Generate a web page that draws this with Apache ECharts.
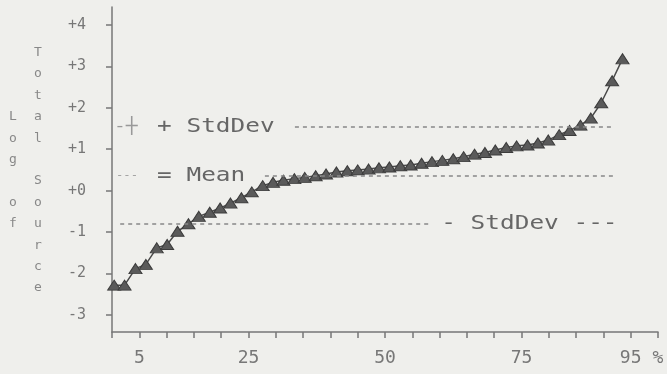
<!DOCTYPE html>
<html>
<head>
<meta charset="utf-8">
<script src="https://cdn.jsdelivr.net/npm/echarts@6/dist/echarts.min.js"></script>
<style>
  html, body { margin: 0; padding: 0; background: #efefec; }
  #main { width: 667px; height: 374px; }
</style>
</head>
<body>
<div id="main"></div>
<script>
// percentile rank of each source (x) and its log total source (y)
var pctRank = [0.4, 2.3, 4.3, 6.2, 8.2, 10.1, 12.0, 14.0, 15.9, 17.9, 19.8, 21.7, 23.7, 25.6,
  27.6, 29.5, 31.4, 33.4, 35.3, 37.3, 39.2, 41.1, 43.1, 45.0, 47.0, 48.9, 50.8, 52.8, 54.7,
  56.7, 58.6, 60.5, 62.5, 64.4, 66.4, 68.3, 70.2, 72.2, 74.1, 76.1, 78.0, 79.9, 81.9, 83.8,
  85.8, 87.7, 89.6, 91.6, 93.5];
var logSource = [-2.28, -2.28, -1.88, -1.78, -1.38, -1.30, -0.98, -0.80, -0.62, -0.52, -0.42,
  -0.30, -0.17, -0.03, 0.12, 0.20, 0.25, 0.29, 0.32, 0.36, 0.40, 0.45, 0.48, 0.50, 0.52, 0.55,
  0.57, 0.60, 0.62, 0.66, 0.70, 0.73, 0.77, 0.82, 0.88, 0.92, 0.98, 1.04, 1.08, 1.10, 1.15,
  1.22, 1.35, 1.45, 1.58, 1.75, 2.12, 2.65, 3.18];

// reference levels and the x span of their dotted lines
var meanVal = 0.36;
var sdHigh = 1.54;
var sdLow = -0.80;
var sdHighSpan = [33.5, 91.8];
var meanSpan = [28.0, 91.8];
var sdLowSpan = [1.5, 58.2];

var yTicks = [-3, -2, -1, 0, 1, 2, 3, 4];
var xTicks = [0, 5, 10, 15, 20, 25, 30, 35, 40, 45, 50, 55, 60, 65, 70, 75, 80, 85, 90, 95, 100];
var xLabels = [5, 25, 50, 75, 95, 100];

var ink = '#4a4a4a';
var grey = '#777';
var mono = '"DejaVu Sans Mono", "Liberation Mono", monospace';

var dom = document.getElementById('main');
var myChart = echarts.init(dom, null, { renderer: 'canvas' });

var points = pctRank.map(function (x, i) { return [x, logSource[i]]; });

function hline(y, span) {
  return [{ coord: [span[0], y] }, { coord: [span[1], y] }];
}

var yMin = -3.41, yMax = 4.43;

var option = {
  backgroundColor: '#efefec',
  animation: false,
  grid: { left: 112, right: 9, top: 7, bottom: 42 },
  xAxis: {
    type: 'value',
    min: 0,
    max: 100,
    splitLine: { show: false },
    axisLine: { onZero: false, lineStyle: { color: grey, width: 1.5 } },
    axisTick: { customValues: xTicks, length: 6, lineStyle: { color: grey, width: 1.5 } },
    axisLabel: {
      customValues: xLabels,
      margin: 17,
      color: grey,
      fontFamily: mono,
      fontSize: 18,
      formatter: function (v) { return v === 100 ? '%' : String(v); }
    }
  },
  yAxis: [
    {
      // the axis line and its ticks
      type: 'value',
      min: yMin,
      max: yMax,
      splitLine: { show: false },
      axisLine: { show: true, onZero: false, lineStyle: { color: grey, width: 1.5 } },
      axisTick: { show: true, customValues: yTicks, length: 6, lineStyle: { color: grey, width: 1.5 } },
      axisLabel: { show: false }
    },
    {
      // labels only, set further left like in the original
      type: 'value',
      position: 'left',
      offset: 18,
      min: yMin,
      max: yMax,
      splitLine: { show: false },
      axisLine: { show: false },
      axisTick: { show: false },
      axisLabel: {
        customValues: yTicks,
        margin: 8,
        color: grey,
        fontFamily: mono,
        fontSize: 15,
        formatter: function (v) { return (v >= 0 ? '+' : '') + v; }
      }
    }
  ],
  series: [
    {
      type: 'line',
      yAxisIndex: 0,
      data: points,
      symbol: 'triangle',
      symbolSize: [13, 10],
      lineStyle: { color: ink, width: 1.5 },
      itemStyle: { color: '#5a5a5a', borderColor: '#3c3c3c', borderWidth: 1 },
      markLine: {
        silent: true,
        symbol: 'none',
        label: { show: false },
        lineStyle: { color: '#888', width: 1.5, type: [4, 4] },
        data: [hline(sdHigh, sdHighSpan), hline(meanVal, meanSpan), hline(sdLow, sdLowSpan)]
      }
    }
  ]
};

myChart.setOption(option);

function py(v) { return myChart.convertToPixel({ gridIndex: 0 }, [0, v])[1]; }
function pxAt(v) { return myChart.convertToPixel({ gridIndex: 0 }, [v, 0])[0]; }

function label(text, x, y, color, size) {
  return {
    type: 'text', x: x, y: y, scaleX: 1.22, silent: true,
    style: { text: text, font: (size || 20) + 'px ' + mono, fill: color || '#666', verticalAlign: 'middle', align: 'left' }
  };
}

var nameFont = '13px ' + mono;
myChart.setOption({
  graphic: [
    label('-\u253c', 114, py(sdHigh), '#999', 16),
    label('   + StdDev', 113, py(sdHigh)),
    label('---', 116, py(meanVal), '#999', 10),
    label('   = Mean', 113, py(meanVal)),
    label('- StdDev ---', pxAt(60.3), py(sdLow)),
    {
      type: 'text', x: 13, y: 42, silent: true,
      style: { text: '\n\n\nL\no\ng\n\no\nf', font: nameFont, lineHeight: 21.4, fill: '#888', align: 'center', verticalAlign: 'top' }
    },
    {
      type: 'text', x: 38, y: 42, silent: true,
      style: { text: 'T\no\nt\na\nl\n\nS\no\nu\nr\nc\ne', font: nameFont, lineHeight: 21.4, fill: '#888', align: 'center', verticalAlign: 'top' }
    }
  ]
});

window.addEventListener('resize', myChart.resize);
</script>
</body>
</html>
